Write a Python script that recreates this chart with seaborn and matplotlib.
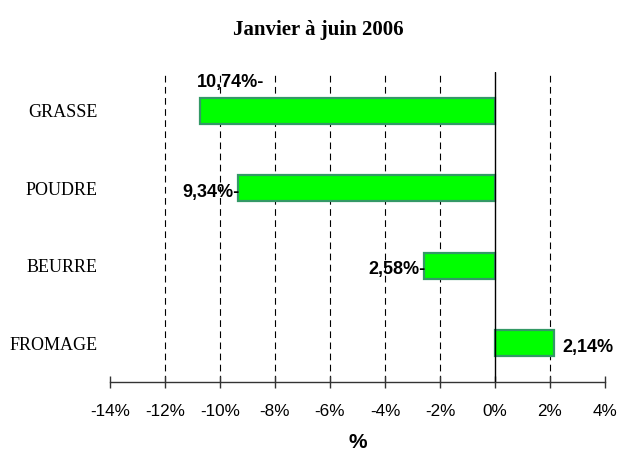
import numpy as np
import matplotlib
matplotlib.use("Agg")
import matplotlib.pyplot as plt
import matplotlib.ticker as mticker
import pandas as pd
import seaborn as sns

# Data
categories = ["GRASSE", "POUDRE", "BEURRE", "FROMAGE"]
values = [-10.74, -9.34, -2.58, 2.14]
value_labels = ["10,74%-", "9,34%-", "2,58%-", "2,14%"]
x_ticks = [-14, -12, -10, -8, -6, -4, -2, 0, 2, 4]
title = "Janvier à juin 2006"

sns.set_style("white")
plt.rcParams['font.family'] = ['Liberation Sans', 'DejaVu Sans']
plt.rcParams['text.color'] = 'black'
plt.rcParams['xtick.color'] = 'black'
plt.rcParams['ytick.color'] = 'black'
plt.rcParams['axes.labelcolor'] = 'black'

df = pd.DataFrame({'Produit': categories, 'Variation': values})

fig = plt.figure(figsize=(6.21, 4.53), dpi=100)
ax = fig.add_axes([0.1771, 0.1567, 0.7971, 0.6844])

sns.barplot(data=df, y='Produit', x='Variation', orient='h', order=categories,
            color='#00FF00', saturation=1, width=0.34,
            edgecolor='#339966', linewidth=1.6, ax=ax, zorder=3)

# Axis range and ticks
ax.set_xlim(x_ticks[0], x_ticks[-1])
ax.set_xticks(x_ticks)
ax.xaxis.set_major_formatter(mticker.FuncFormatter(lambda v, p: f"{v:.0f}%"))
ax.tick_params(axis='x', bottom=True, direction='inout', length=8, width=1,
               color='#333333', labelsize=12.3, pad=12)
ax.tick_params(axis='y', left=False, length=0, pad=9)
for lab in ax.get_yticklabels():
    lab.set_fontfamily(['Liberation Serif', 'DejaVu Serif'])
    lab.set_fontsize(13)

# Dashed vertical grid on the inner ticks only
for t in x_ticks[1:-1]:
    if t != 0:
        ax.axvline(t, linestyle=(0, (6, 4)), color='black', linewidth=0.8, zorder=0)
ax.axvline(0, color='black', linewidth=1, zorder=4)

for side in ['top', 'left', 'right']:
    ax.spines[side].set_visible(False)
ax.spines['bottom'].set_color('#333333')
ax.spines['bottom'].set_linewidth(1)

ax.set_ylabel('')
ax.set_xlabel('%', fontsize=15, fontweight='bold', labelpad=10)
fig.suptitle(title, x=0.513, y=0.955, fontsize=15, fontweight='bold',
             fontfamily=['Liberation Serif', 'DejaVu Serif'])

# Value labels
placement = ['above', 'left', 'left', 'right']
for i, (v, txt, where) in enumerate(zip(values, value_labels, placement)):
    if where == 'above':
        ax.annotate(txt, (v, i), xytext=(-2, 14), textcoords='offset points',
                    ha='left', va='bottom', fontsize=13, fontweight='bold')
    elif where == 'left':
        ax.annotate(txt, (v, i), xytext=(1, -3), textcoords='offset points',
                    ha='right', va='center', fontsize=13, fontweight='bold')
    else:
        ax.annotate(txt, (v, i), xytext=(6, -3), textcoords='offset points',
                    ha='left', va='center', fontsize=13, fontweight='bold')

fig.savefig('out.png', dpi=100)
